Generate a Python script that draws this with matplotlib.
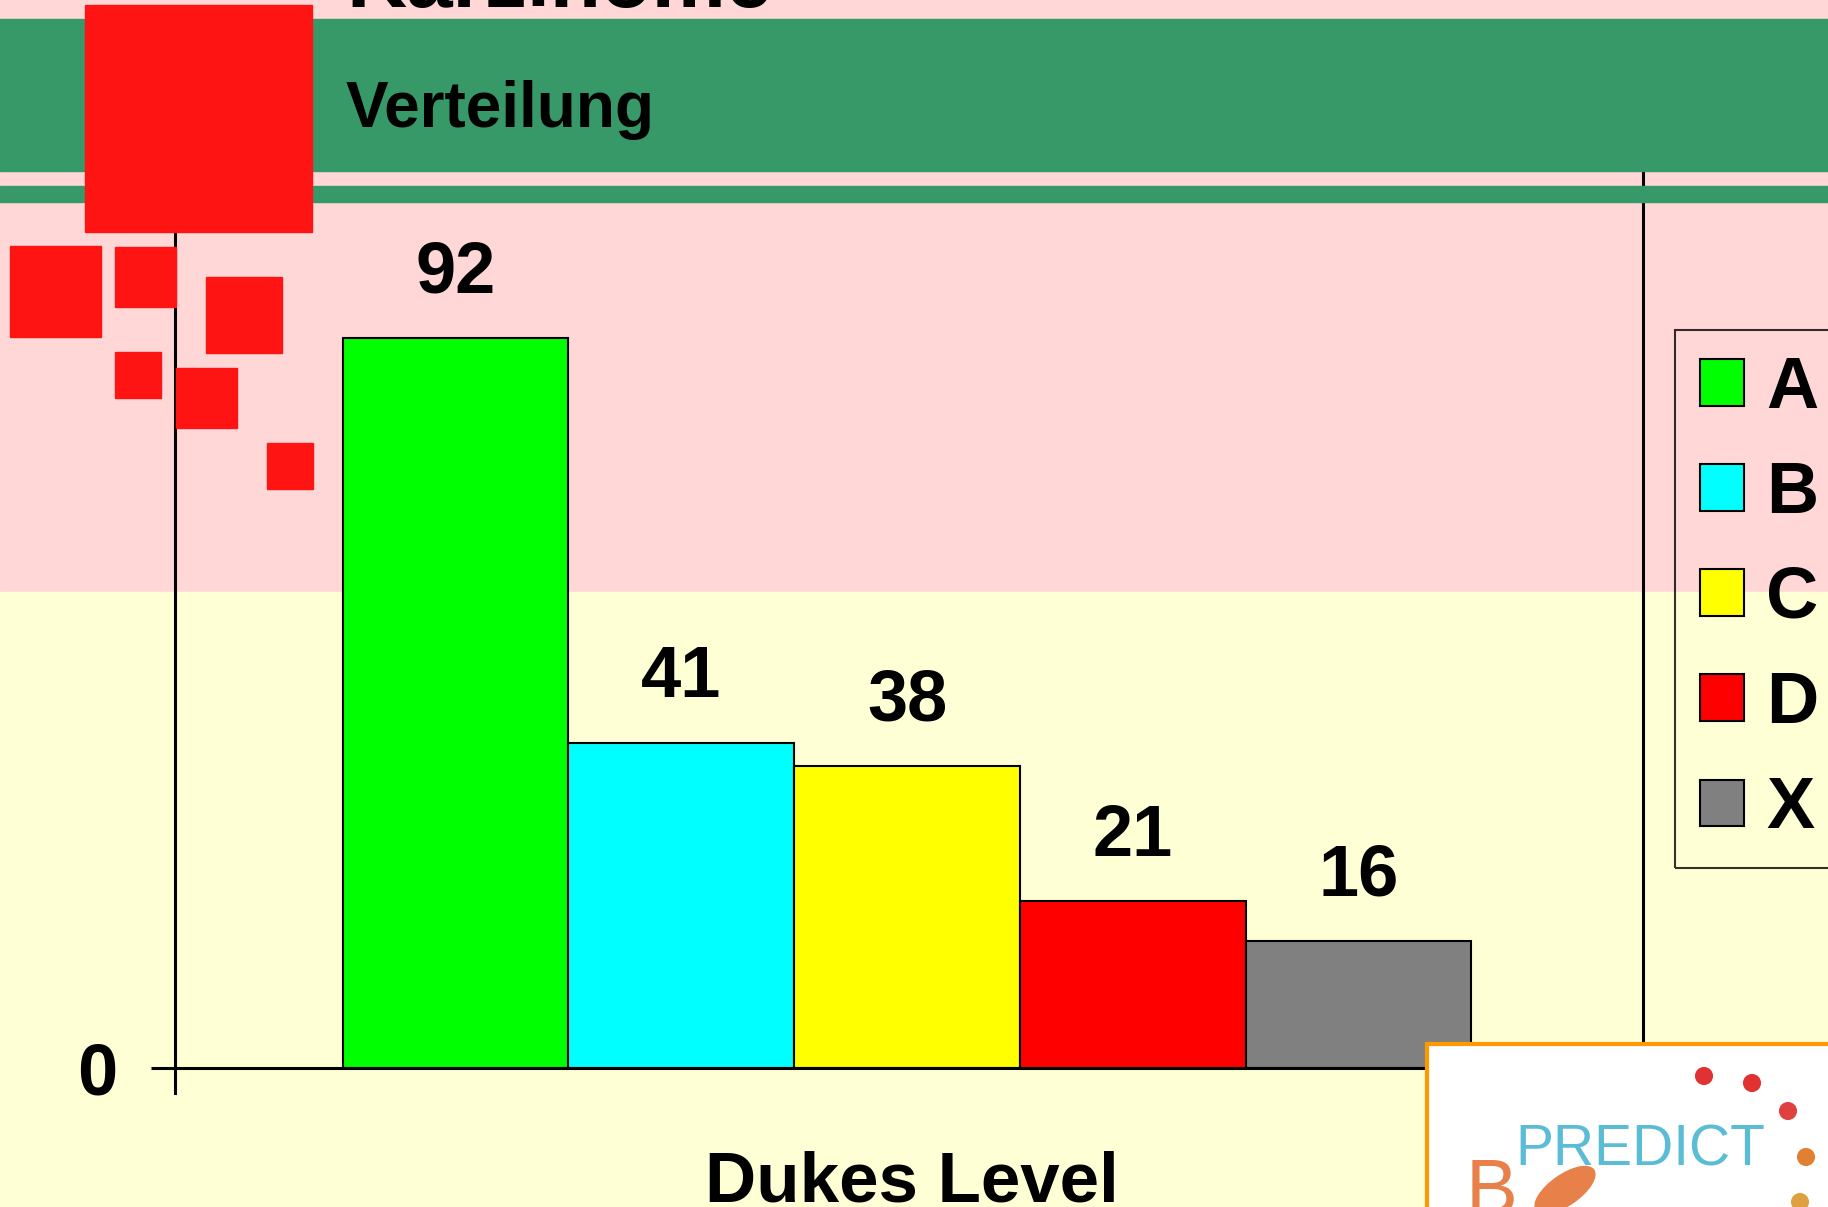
import matplotlib.pyplot as plt
from matplotlib.patches import Rectangle, Ellipse

plt.rcParams['font.family'] = ['Liberation Sans', 'DejaVu Sans']
plt.rcParams['font.weight'] = 'bold'

# data
levels = ['A', 'B', 'C', 'D', 'X']
counts = [92, 41, 38, 21, 16]
bar_colors = ['#00ff00', '#00ffff', '#ffff00', '#ff0000', '#808080']

W, H = 1828, 1207
fig = plt.figure(figsize=(W / 100, H / 100), dpi=100)
fig.patch.set_facecolor('#ffd7d7')

# background layer, pixel coords
bg = fig.add_axes([0, 0, 1, 1], zorder=-1)
bg.set_xlim(0, W)
bg.set_ylim(H, 0)
bg.axis('off')
bg.add_patch(Rectangle((0, 592), W, H - 592, color='#ffffd5'))

# main chart
ax = fig.add_axes([175 / W, (H - 1093) / H, (1643 - 175) / W, (1093 - 171) / H])
ax.patch.set_visible(False)
bars = ax.bar(range(len(levels)), counts, width=1.0, color=bar_colors,
              edgecolor='black', linewidth=1.5)
ax.set_xlim(-1.2425, 5.26)
ax.set_ylim(-3.15, 113.04)
ax.axhline(0, color='black', lw=2.2)
for s in ['top', 'bottom']:
    ax.spines[s].set_visible(False)
for s in ['left', 'right']:
    ax.spines[s].set_linewidth(2.2)
ax.set_xticks([])
ax.set_yticks([0])
ax.set_yticklabels(['0'])
ax.tick_params(axis='y', length=17, width=2.2, pad=24.5, labelsize=52)

for rect, v in zip(bars.patches, counts):
    ax.annotate(str(v), (rect.get_x() + rect.get_width() / 2, v),
                xytext=(0, 33), textcoords='offset points',
                ha='center', va='baseline', fontsize=52)

ax.set_xlabel('Dukes Level', fontsize=51, fontweight='bold', va='baseline')
ax.xaxis.set_label_coords(0.502, -0.118)

leg = ax.legend(bars.patches, levels, loc='upper left',
                bbox_to_anchor=(1675 / W, 1 - 330 / H),
                bbox_transform=fig.transFigure, fontsize=52,
                fancybox=False, edgecolor='black', borderaxespad=0,
                borderpad=0.34, handlelength=0.62, handleheight=0.62,
                handletextpad=0.3, labelspacing=0.515)
leg.get_frame().set_facecolor('none')
leg.get_frame().set_linewidth(1.5)

# foreground decorations, pixel coords
fg = fig.add_axes([0, 0, 1, 1], zorder=3)
fg.set_xlim(0, W)
fg.set_ylim(H, 0)
fg.axis('off')
fg.patch.set_visible(False)

fg.add_patch(Rectangle((0, 19), W, 152, color='#379968'))
fg.add_patch(Rectangle((0, 186), W, 16, color='#379968'))

squares = [(85, 5, 312, 232), (10, 246, 101, 337), (115, 247, 176, 307),
           (206, 277, 282, 353), (115, 352, 161, 398), (176, 368, 237, 428),
           (267, 443, 313, 489)]
for x0, y0, x1, y1 in squares:
    fg.add_patch(Rectangle((x0, y0), x1 - x0, y1 - y0, color='#ff1414'))

fg.text(346, 7, 'Karzinome', fontsize=60, va='baseline', ha='left')
fg.text(346, 127, 'Verteilung', fontsize=46, va='baseline', ha='left')

# logo
fg.add_patch(Rectangle((1427, 1044), 420, 200, facecolor='white',
                       edgecolor='#ff9900', lw=3))
fg.scatter([1704, 1752, 1788, 1806, 1800], [1076, 1083, 1111, 1157, 1202],
           s=170, c=['#e03232', '#e03232', '#e04040', '#e08030', '#e0a040'],
           linewidths=0)
fg.text(1515, 1165, 'PREDICT', fontsize=41, fontweight='normal',
        color='#5bbcd6', va='baseline')
fg.text(1466, 1214, 'B', fontsize=56, fontweight='normal',
        color='#e8804a', va='baseline')
fg.add_patch(Ellipse((1565, 1190), 70, 30, angle=-35, color='#e8804a'))

fig.savefig('out.png', dpi=100, facecolor=fig.get_facecolor())
